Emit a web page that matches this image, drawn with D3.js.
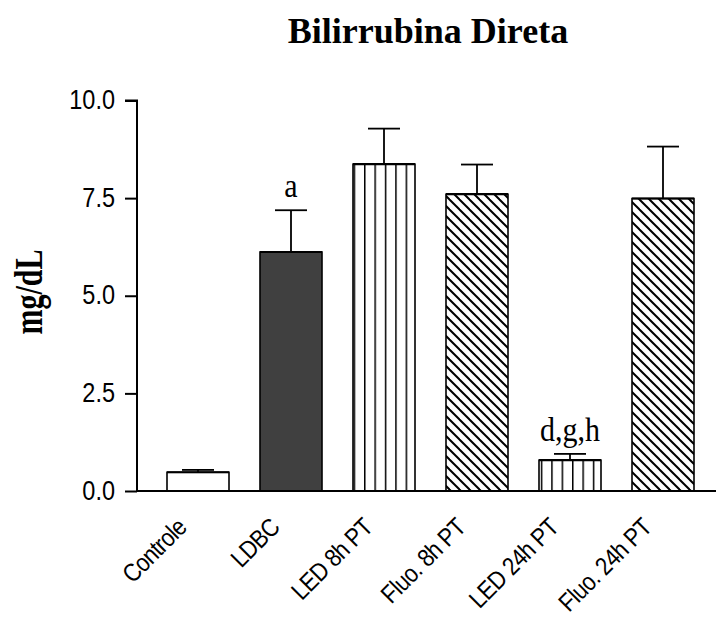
<!DOCTYPE html>
<html lang="en">
<head>
<meta charset="UTF-8">
<title>Bilirrubina Direta</title>
<style>
  body { margin: 0; background: #fff; }
  svg { display: block; }
</style>
</head>
<body>
<svg width="716" height="624"></svg>

<script src="https://d3js.org/d3.v7.min.js"></script>
<script>

// values
var groups = ["Controle", "LDBC", "LED 8h PT", "Fluo. 8h PT", "LED 24h PT", "Fluo. 24h PT"];
var means = [0.48, 6.12, 8.37, 7.60, 0.79, 7.49];
var errors = [0.06, 1.07, 0.91, 0.76, 0.16, 1.33];
var letters = ["", "a", "", "", "d,g,h", ""];
var yTicks = [0, 2.5, 5.0, 7.5, 10.0];

// fill per bar
var barFill = ["#fff", "#404040", "url(#vlines)", "url(#hatch)", "url(#vlines)", "url(#hatch)"];

var svg = d3.select("svg");

var defs = svg.append("defs");
var vp = defs.append("pattern")
    .attr("id", "vlines")
    .attr("patternUnits", "userSpaceOnUse")
    .attr("width", 10.4).attr("height", 10);
vp.append("rect").attr("width", 10.4).attr("height", 10).attr("fill", "#fff");
vp.append("line")
    .attr("x1", 0.75).attr("x2", 0.75).attr("y1", 0).attr("y2", 10)
    .attr("stroke", "#000").attr("stroke-width", 1.5);

var hp = defs.append("pattern")
    .attr("id", "hatch")
    .attr("patternUnits", "userSpaceOnUse")
    .attr("width", 10).attr("height", 10);
hp.append("rect").attr("width", 10).attr("height", 10).attr("fill", "#fff");
hp.selectAll("line")
    .data([[-5, 5, 5, 15], [0, 0, 10, 10], [5, -5, 15, 5]])
    .enter().append("line")
    .attr("x1", function(d) { return d[0]; })
    .attr("y1", function(d) { return d[1]; })
    .attr("x2", function(d) { return d[2]; })
    .attr("y2", function(d) { return d[3]; })
    .attr("stroke", "#000").attr("stroke-width", 2);

var x = d3.scaleBand()
    .domain(groups)
    .range([151.5, 709.5])
    .paddingInner(1 / 3)
    .paddingOuter(1 / 6);

var y = d3.scaleLinear()
    .domain([0, 10])
    .range([491, 100.5]);

var serif = "'Liberation Serif', 'Times New Roman', serif";
var sans = "'Liberation Sans', Arial, sans-serif";

// title
svg.append("text")
    .attr("x", 428)
    .attr("y", 43)
    .attr("text-anchor", "middle")
    .style("font-family", serif)
    .style("font-weight", "bold")
    .style("font-size", "36px")
    .text("Bilirrubina Direta");

// y label
svg.append("text")
    .attr("transform", "translate(42,292) rotate(-90) scale(1,1.3)")
    .attr("text-anchor", "middle")
    .style("font-family", serif)
    .style("font-weight", "bold")
    .style("font-size", "30px")
    .text("mg/dL");

// bars
var bars = svg.append("g");

bars.selectAll(".bar")
    .data(groups)
    .enter().append("rect")
    .attr("class", "bar")
    .attr("x", function(d) { return x(d); })
    .attr("y", function(d, i) { return y(means[i]); })
    .attr("width", x.bandwidth())
    .attr("height", function(d, i) { return y(0) - y(means[i]); })
    .attr("fill", function(d, i) { return barFill[i]; })
    .attr("stroke", "#000")
    .attr("stroke-width", 1.6);

// thicker top edge
bars.selectAll(".top")
    .data(groups)
    .enter().append("line")
    .attr("x1", function(d) { return x(d); })
    .attr("x2", function(d) { return x(d) + x.bandwidth(); })
    .attr("y1", function(d, i) { return y(means[i]); })
    .attr("y2", function(d, i) { return y(means[i]); })
    .attr("stroke", "#000")
    .attr("stroke-width", 2.2);

// error bars (upper only)
var err = svg.append("g")
    .attr("stroke", "#000")
    .attr("stroke-width", 1.8);

err.selectAll(".stem")
    .data(groups)
    .enter().append("line")
    .attr("x1", function(d) { return x(d) + x.bandwidth() / 2; })
    .attr("x2", function(d) { return x(d) + x.bandwidth() / 2; })
    .attr("y1", function(d, i) { return y(means[i]); })
    .attr("y2", function(d, i) { return y(means[i] + errors[i]); });

err.selectAll(".cap")
    .data(groups)
    .enter().append("line")
    .attr("x1", function(d) { return x(d) + x.bandwidth() / 2 - 16; })
    .attr("x2", function(d) { return x(d) + x.bandwidth() / 2 + 16; })
    .attr("y1", function(d, i) { return y(means[i] + errors[i]); })
    .attr("y2", function(d, i) { return y(means[i] + errors[i]); });

// significance letters
svg.selectAll(".sig")
    .data(groups)
    .enter().append("text")
    .attr("transform", function(d, i) {
        return "translate(" + (x(d) + x.bandwidth() / 2) + "," + (y(means[i] + errors[i]) - 13) + ") scale(1,1.12)";
    })
    .attr("text-anchor", "middle")
    .style("font-family", serif)
    .style("font-size", "30px")
    .text(function(d, i) { return letters[i]; });

// y axis
var yAxis = svg.append("g")
    .attr("transform", "translate(137,0)")
    .call(d3.axisLeft(y)
        .tickValues(yTicks)
        .tickSize(12)
        .tickPadding(10)
        .tickFormat(d3.format(".1f")));

yAxis.select(".domain")
    .attr("d", "M-12," + y(10) + "H0V" + y(0))
    .attr("stroke-width", 2);
yAxis.selectAll(".tick line").attr("stroke-width", 2);
yAxis.selectAll(".tick text")
    .attr("transform", "scale(1,1.15)")
    .attr("dy", "0.3em")
    .style("font-family", sans)
    .style("font-size", "23.5px")
    .attr("fill", "#000");

// x axis
var xAxis = svg.append("g")
    .attr("transform", "translate(0,491)")
    .call(d3.axisBottom(x).tickSize(0).tickPadding(0));

xAxis.select(".domain")
    .attr("d", "M136,0H716")
    .attr("stroke-width", 2);

xAxis.selectAll(".tick text")
    .attr("text-anchor", "end")
    .attr("dy", null)
    .attr("y", 0)
    .attr("transform", "translate(-10,38) rotate(-45) scale(1,1.15)")
    .style("font-family", sans)
    .style("font-size", "22px")
    .style("letter-spacing", "-0.6px")
    .attr("fill", "#000");

</script>
</body>
</html>
